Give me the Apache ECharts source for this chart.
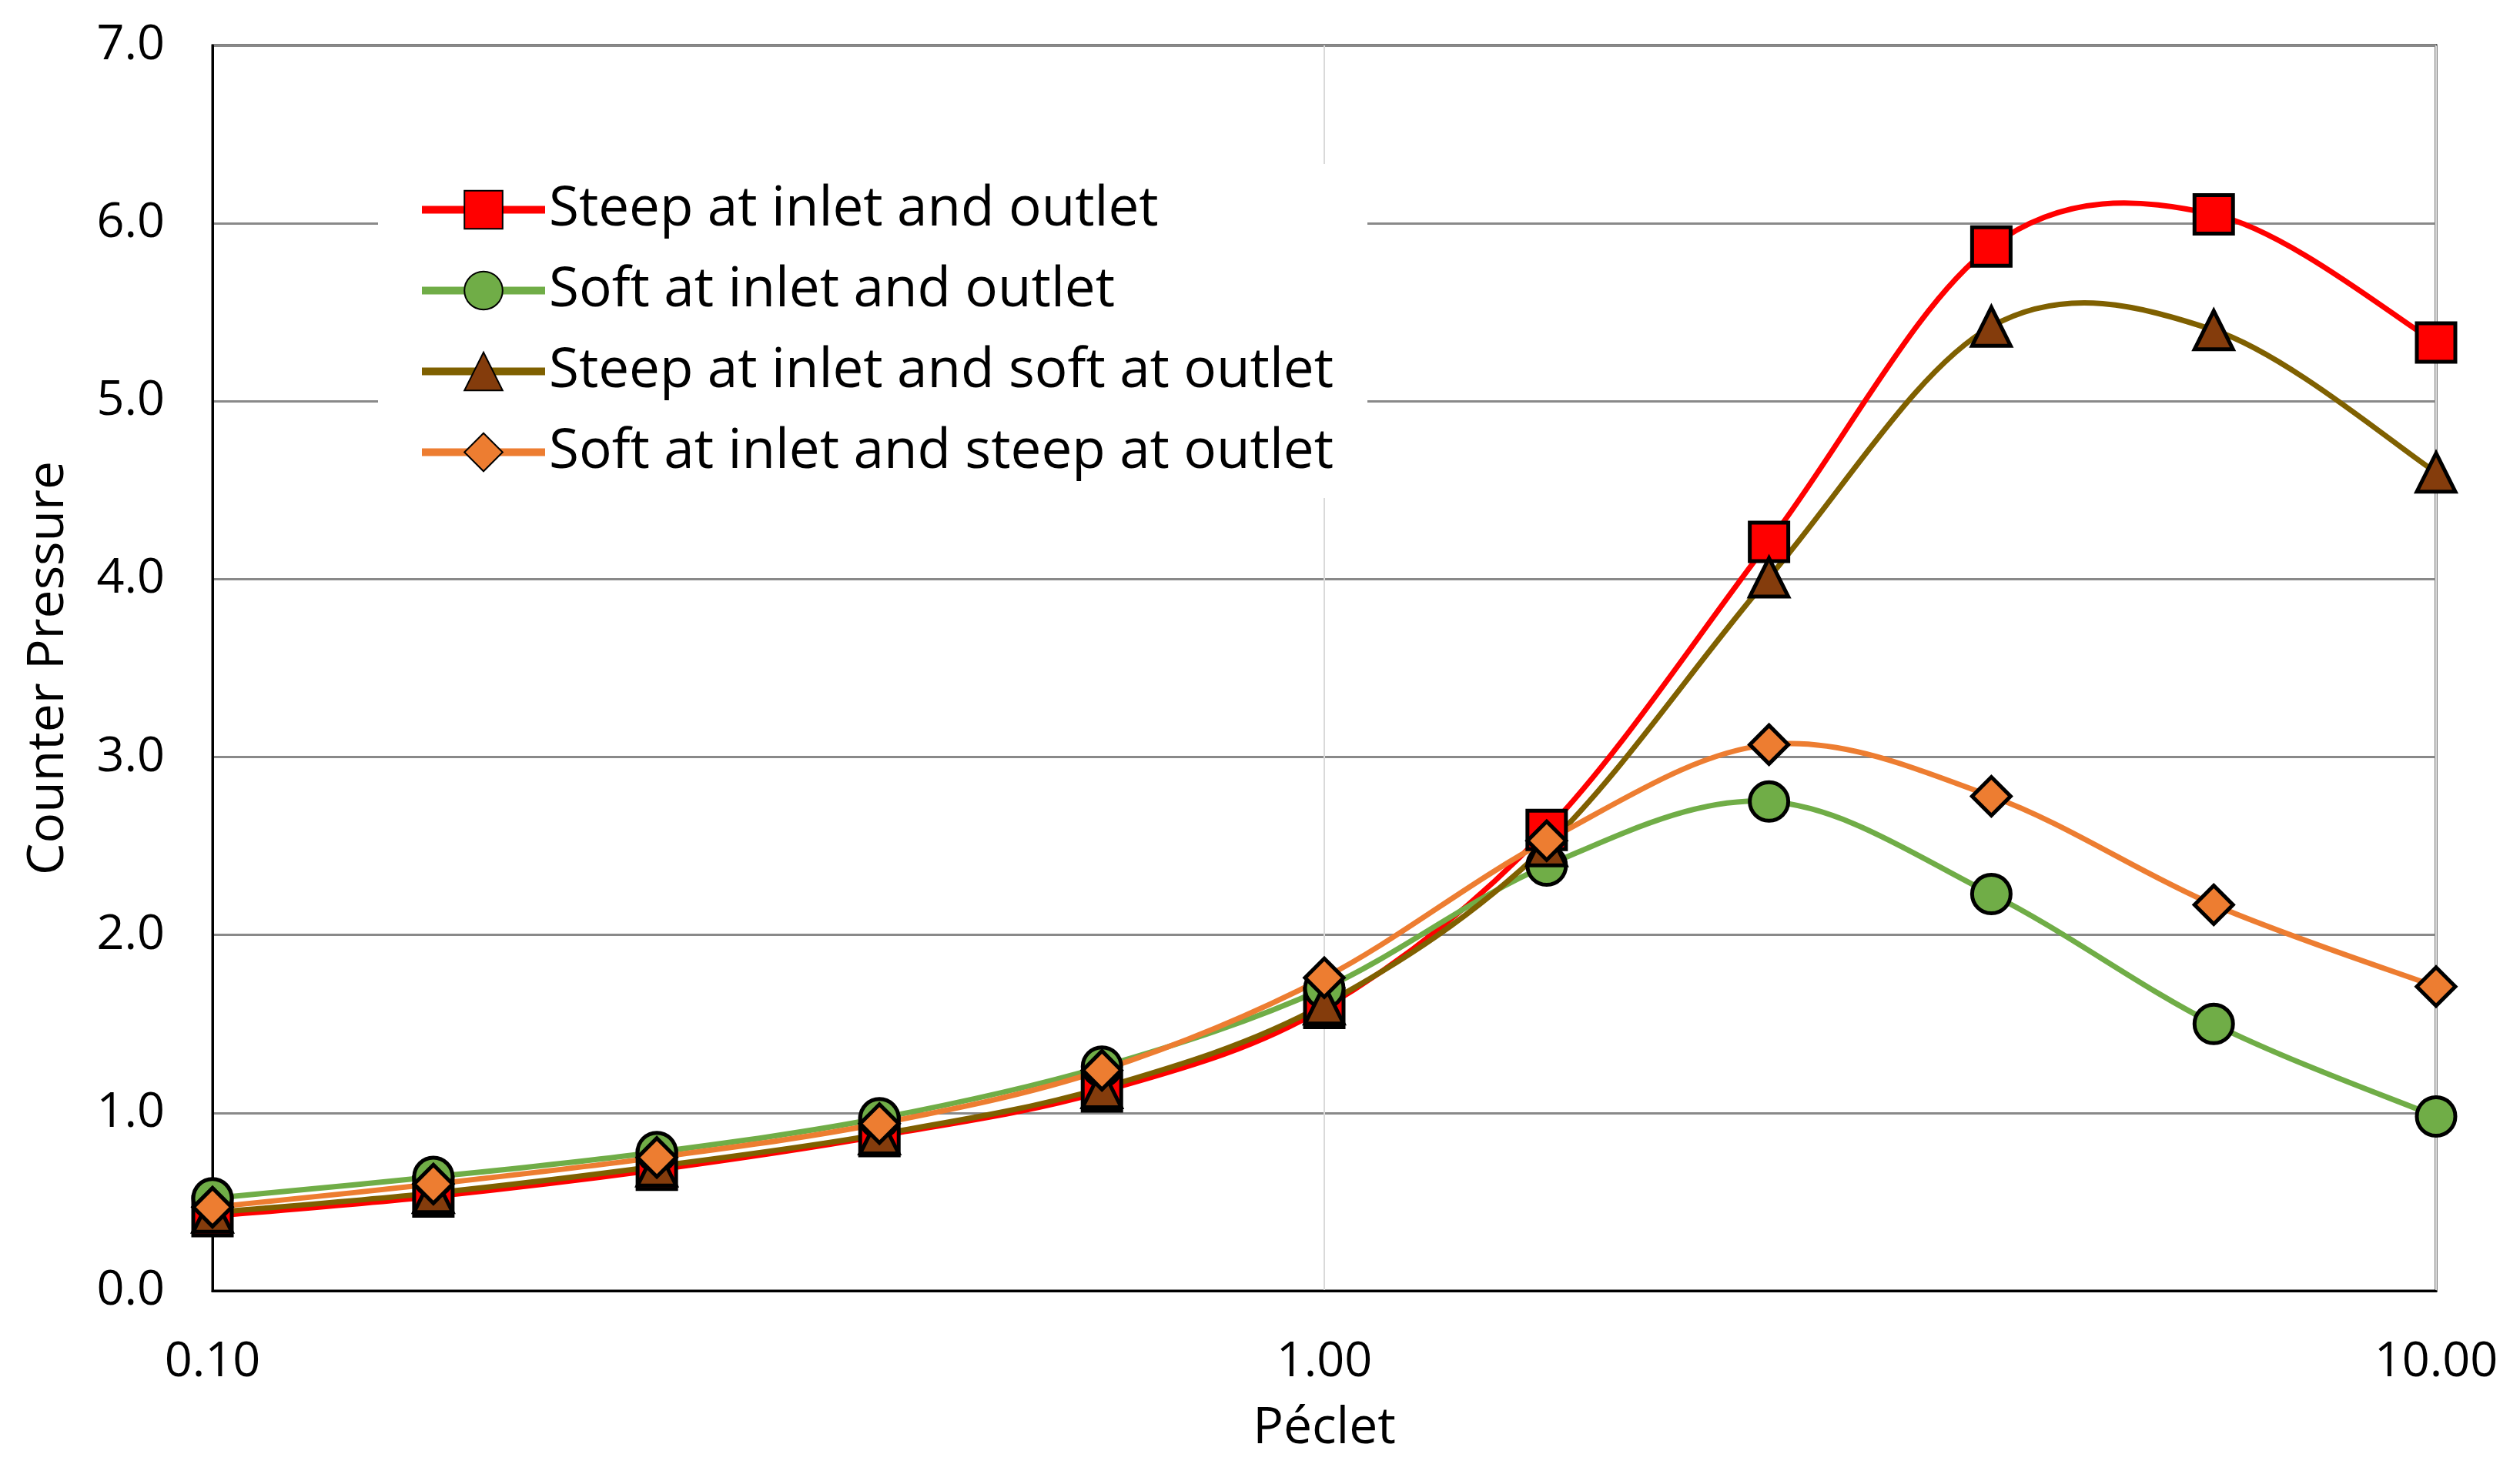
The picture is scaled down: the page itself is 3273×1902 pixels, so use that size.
<!DOCTYPE html>
<html>
<head>
<meta charset="utf-8">
<title>Counter Pressure vs Péclet</title>
<script src="https://cdn.jsdelivr.net/npm/echarts@6/dist/echarts.min.js"></script>
<style>
  html, body { margin: 0; padding: 0; background: #fff; }
  #chart { width: 3273px; height: 1902px; }
</style>
</head>
<body>
<div id="chart"></div>
<script>
// Péclet numbers (5 points per decade)
const peclet = [0.1, 0.158, 0.251, 0.398, 0.631, 1.0, 1.585, 2.512, 3.981, 6.31, 10]

const steepBoth = [0.42, 0.53, 0.68, 0.87, 1.12, 1.59, 2.59, 4.21, 5.87, 6.05, 5.33]
const softBoth = [0.52, 0.64, 0.78, 0.97, 1.26, 1.70, 2.39, 2.75, 2.23, 1.50, 0.98]
const steepInSoftOut = [0.44, 0.55, 0.70, 0.88, 1.14, 1.61, 2.50, 4.01, 5.42, 5.40, 4.60]
const softInSteepOut = [0.47, 0.60, 0.75, 0.94, 1.24, 1.76, 2.53, 3.07, 2.78, 2.17, 1.71]

const seriesNames = [
  'Steep at inlet and outlet',
  'Soft at inlet and outlet',
  'Steep at inlet and soft at outlet',
  'Soft at inlet and steep at outlet'
]

const FONT = '"Open Sans", "Noto Sans", sans-serif'

function pairs(ys) {
  return peclet.map((x, i) => [x, ys[i]])
}

// markers only: the line itself is drawn by curveSeries (spreadsheet-style smoothing)
function markerSeries(name, ys, lineColor, fill, symbol) {
  return {
    name: name,
    type: 'line',
    data: pairs(ys),
    symbol: symbol,
    symbolSize: 50,
    lineStyle: { color: lineColor, width: 0 },
    itemStyle: { color: fill, borderColor: '#000', borderWidth: 5 },
    emphasis: { disabled: true },
    z: 3,
    animation: false
  }
}

// Catmull-Rom segments between the points, in pixel space of the axes
function curveSeries(ys, color) {
  const n = ys.length
  const at = (api, k) => {
    k = Math.max(0, Math.min(n - 1, k))
    return api.coord([peclet[k], ys[k]])
  }
  return {
    type: 'custom',
    silent: true,
    z: 1,
    animation: false,
    data: pairs(ys).slice(0, n - 1),
    renderItem: (params, api) => {
      const i = params.dataIndex
      const p0 = at(api, i - 1)
      const p1 = at(api, i)
      const p2 = at(api, i + 1)
      const p3 = at(api, i + 2)
      return {
        type: 'bezierCurve',
        shape: {
          x1: p1[0], y1: p1[1],
          x2: p2[0], y2: p2[1],
          cpx1: p1[0] + (p2[0] - p0[0]) / 6,
          cpy1: p1[1] + (p2[1] - p0[1]) / 6,
          cpx2: p2[0] - (p3[0] - p1[0]) / 6,
          cpy2: p2[1] - (p3[1] - p1[1]) / 6
        },
        style: { stroke: color, lineWidth: 7, fill: null, lineCap: 'round' }
      }
    }
  }
}

const chart = echarts.init(document.getElementById('chart'))
chart.setOption({
  backgroundColor: '#fff',
  textStyle: { fontFamily: FONT },
  grid: {
    left: 276,
    right: 109,
    top: 59,
    bottom: 225,
    show: true,
    borderColor: '#000',
    borderWidth: 3,
    backgroundColor: 'transparent'
  },
  legend: {
    orient: 'vertical',
    left: 491,
    top: 213,
    padding: [24, 44, 24, 52],
    itemWidth: 160,
    itemHeight: 62,
    itemGap: 34,
    backgroundColor: '#fff',
    lineStyle: { width: 10 },
    textStyle: { fontFamily: FONT, fontSize: 71, color: '#000' },
    data: seriesNames
  },
  xAxis: {
    type: 'log',
    logBase: 10,
    min: 0.1,
    max: 10,
    name: 'Péclet',
    nameLocation: 'middle',
    nameGap: 146,
    nameTextStyle: { fontFamily: FONT, fontSize: 66, color: '#000' },
    axisLine: { lineStyle: { color: '#000', width: 3 } },
    axisTick: { show: false },
    minorTick: { show: false },
    axisLabel: {
      fontFamily: FONT,
      fontSize: 63,
      color: '#000',
      margin: 62,
      formatter: v => v.toFixed(2)
    },
    splitLine: { show: true, lineStyle: { color: '#d9d9d9', width: 2 } }
  },
  yAxis: {
    type: 'value',
    min: 0,
    max: 7,
    interval: 1,
    name: 'Counter Pressure',
    nameLocation: 'middle',
    nameGap: 180,
    nameTextStyle: { fontFamily: FONT, fontSize: 66, color: '#000' },
    axisLine: { show: true, lineStyle: { color: '#000', width: 3 } },
    axisTick: { show: false },
    axisLabel: {
      fontFamily: FONT,
      fontSize: 63,
      color: '#000',
      margin: 62,
      formatter: v => v.toFixed(1)
    },
    splitLine: { show: true, lineStyle: { color: '#898989', width: 3 } }
  },
  series: [
    curveSeries(steepBoth, '#ff0000'),
    curveSeries(softBoth, '#70ad47'),
    curveSeries(steepInSoftOut, '#7f6000'),
    curveSeries(softInSteepOut, '#ed7d31'),
    markerSeries(seriesNames[0], steepBoth, '#ff0000', '#ff0000', 'rect'),
    markerSeries(seriesNames[1], softBoth, '#70ad47', '#70ad47', 'circle'),
    markerSeries(seriesNames[2], steepInSoftOut, '#7f6000', '#843c0c', 'triangle'),
    markerSeries(seriesNames[3], softInSteepOut, '#ed7d31', '#ed7d31', 'diamond')
  ]
})
</script>
</body>
</html>
